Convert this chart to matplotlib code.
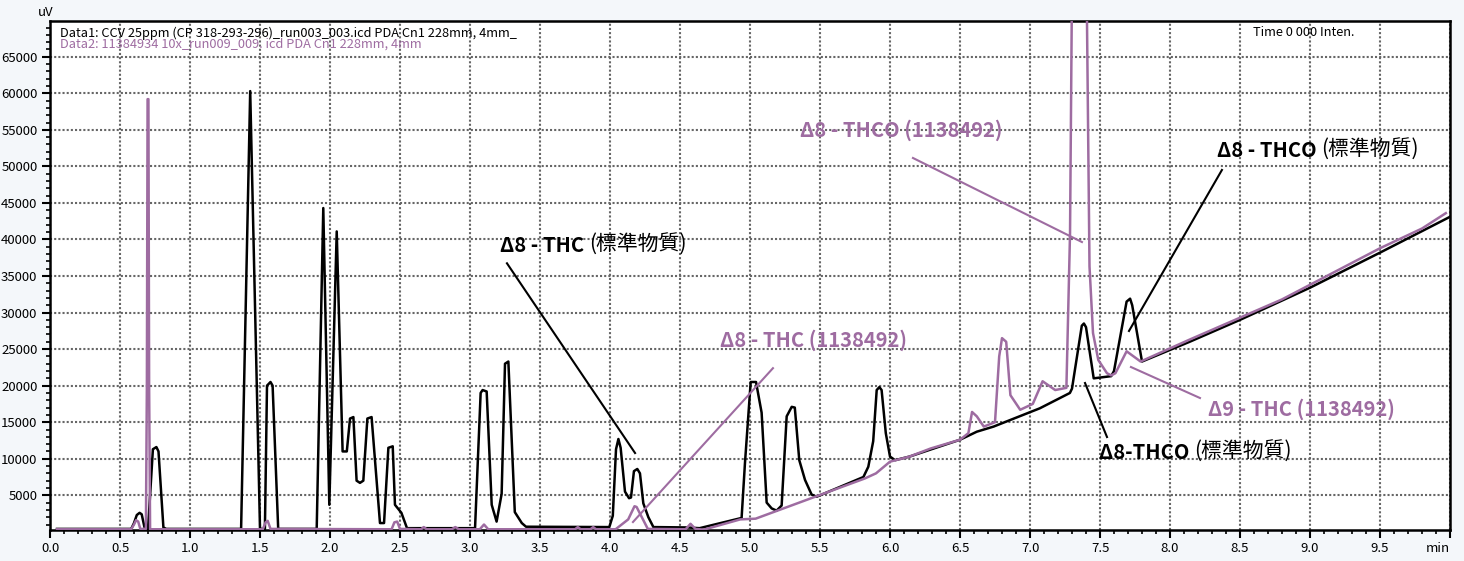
import numpy as np
import matplotlib.pyplot as plt
from matplotlib.ticker import MultipleLocator

plt.rcParams['font.family'] = ['Noto Sans CJK TC', 'DejaVu Sans']

# Data1 (black) - CCV 25ppm standard, retention time (min) / intensity (uV)
t1 = [0.05, 0.58, 0.60, 0.62, 0.64, 0.655, 0.675, 0.70, 0.715, 0.735, 0.76, 0.775, 0.81, 0.83,
      1.365, 1.43, 1.50, 1.535, 1.55, 1.575, 1.59, 1.63, 1.905,
      1.952, 1.995, 2.048, 2.09, 2.12, 2.143, 2.167, 2.19, 2.214, 2.238, 2.267, 2.297,
      2.357, 2.386, 2.417, 2.448, 2.464, 2.51, 2.55, 3.036,
      3.076, 3.09, 3.119, 3.155, 3.19, 3.226, 3.25, 3.274, 3.32, 3.37, 3.40, 3.995,
      4.02, 4.043, 4.06, 4.076, 4.107, 4.136, 4.15, 4.171, 4.195, 4.214, 4.238, 4.274, 4.31,
      4.55, 4.64, 4.94, 4.964, 5.005, 5.043, 5.083, 5.119, 5.155, 5.19, 5.226, 5.262, 5.298,
      5.32, 5.352, 5.393, 5.44, 5.476, 5.81, 5.845, 5.88, 5.905, 5.924, 5.94, 5.97, 6.0,
      6.036, 6.14, 6.5, 6.62, 6.74, 7.07, 7.285, 7.30, 7.37, 7.385, 7.40, 7.455, 7.58,
      7.60, 7.69, 7.715, 7.73, 7.80, 8.14, 8.5, 9.0, 9.5, 10.0]
uv1 = [400, 400, 1200, 2300, 2600, 2400, 600, 400, 5000, 11300, 11600, 11000, 600, 400,
       400, 60300, 400, 400, 20000, 20500, 20000, 400, 400,
       44300, 3700, 41100, 11000, 11000, 15500, 15700, 7000, 6700, 7000, 15500, 15700,
       1200, 1200, 11500, 11700, 3700, 2600, 500, 500,
       19000, 19400, 19200, 3700, 1400, 5200, 23000, 23300, 2700, 1200, 700, 650,
       2200, 11300, 12700, 11500, 5500, 4600, 4700, 8300, 8600, 8000, 3900, 2000, 650,
       600, 500, 1900, 9400, 20500, 20500, 16300, 4000, 3200, 2900, 3600, 15800, 17100,
       17000, 9800, 7100, 5100, 4800, 7500, 8900, 12400, 19400, 19800, 19400, 13500, 10300,
       9800, 10300, 12600, 13700, 14400, 16900, 19000, 19600, 28200, 28500, 28000, 21000, 21300,
       22000, 31500, 31900, 31000, 23300, 26000, 29000, 33400, 38200, 43100]

# Data2 (purple) - sample 11384934 10x
t2 = [0.05, 0.58, 0.60, 0.615, 0.63, 0.645, 0.685, 0.692, 0.697, 0.703, 0.708, 0.715,
      1.52, 1.54, 1.555, 1.575, 2.44, 2.46, 2.48, 2.50, 2.65, 2.67, 2.69, 2.87, 2.895, 2.92,
      3.07, 3.10, 3.13, 3.75, 3.77, 3.79, 3.86, 3.88, 3.90, 4.04, 4.13, 4.175, 4.19, 4.27,
      4.54, 4.575, 4.61, 4.67, 4.93, 5.04, 5.82, 5.9, 6.0, 6.14, 6.29, 6.5, 6.56, 6.586,
      6.62, 6.67, 6.75, 6.78, 6.80, 6.83, 6.86, 6.93, 7.02, 7.09, 7.18, 7.26,
      7.286, 7.298, 7.32, 7.38, 7.407, 7.425, 7.45, 7.488, 7.55, 7.58, 7.61, 7.69, 7.79,
      8.14, 8.5, 8.8, 9.0, 9.3, 9.5, 9.8, 9.97]
uv2 = [350, 350, 1000, 1600, 1400, 400, 400, 20000, 59200, 59200, 20000, 350,
       350, 1300, 1500, 400, 350, 1300, 1400, 400, 350, 650, 350, 350, 650, 350,
       350, 1000, 350, 350, 650, 350, 350, 650, 350, 350, 1700, 3500, 3400, 400,
       350, 1100, 400, 300, 1700, 1800, 7300, 8000, 9600, 10300, 11400, 12600, 13500, 16400,
       15800, 14400, 15000, 24000, 26500, 26000, 18700, 16700, 17500, 20600, 19400, 19700,
       40900, 70000, 95000, 95000, 70000, 36300, 27200, 23500, 21700, 21400, 21700, 24700, 23300,
       26300, 29300, 31800, 33800, 36800, 38800, 41500, 43600]

x_ticks = np.arange(0, 10.01, 0.5)
x_labels = ['%.1f' % v for v in x_ticks[:-1]] + ['min']
y_ticks = np.arange(5000, 65001, 5000)

purple = '#9e6ca1'

# (label parts, colour, text anchor, leader line start, leader line end)
notes = [
    (('\u03948 - THC ', '(標準物質)'), 'black', (3.214, 39240), (3.264, 36740), (4.179, 10780)),
    (('\u03948 - THC (1138492)', ''), purple, (4.786, 26270), (5.164, 22390), (4.164, 1340)),
    (('\u03948 - THCO (1138492)', ''), purple, (5.357, 54970), (6.164, 51150), (7.371, 39650)),
    (('\u03948 - THCO ', '(標準物質)'), 'black', (8.336, 52240), (8.371, 49510), (7.707, 27480)),
    (('\u03949 - THC (1138492)', ''), purple, (8.271, 16800), (7.721, 22550), (8.214, 18310)),
    (('\u03948-THCO ', '(標準物質)'), 'black', (7.493, 10920), (7.393, 20360), (7.55, 12970)),
]

fig = plt.figure(figsize=(14.64, 5.61), dpi=100, facecolor='#f4f7fa')
ax = fig.add_axes([50 / 1464, 31 / 561, 1400 / 1464, 509.5 / 561])
ax.set_facecolor('white')

ax.plot(t1, uv1, color='black', lw=1.8, solid_joinstyle='round', zorder=3)
ax.plot(t2, uv2, color=purple, lw=1.8, solid_joinstyle='round', zorder=4)

ax.set_xlim(0, 10)
ax.set_ylim(250, 69960)
ax.set_xticks(x_ticks)
ax.set_xticklabels(x_labels)
ax.get_xticklabels()[-1].set_ha('right')
ax.set_yticks(y_ticks)
ax.xaxis.set_minor_locator(MultipleLocator(0.1))
ax.yaxis.set_minor_locator(MultipleLocator(1000))
ax.tick_params(which='major', length=6, width=1.5, labelsize=9.5, color='black', pad=3)
ax.tick_params(which='minor', length=3, width=1.2, color='black')
ax.grid(True, which='major', color='#666666', linestyle=(0, (1, 1)), lw=1.5)
ax.set_axisbelow(True)
for s in ax.spines.values():
    s.set_linewidth(1.8)

ax.text(0.007, 0.9755, 'Data1: CCV 25ppm (CP 318-293-296)_run003_003.icd PDA Cn1 228mm, 4mm_',
        transform=ax.transAxes, fontsize=9.2, va='center', ha='left', color='black', zorder=6)
ax.text(0.007, 0.9539, 'Data2: 11384934 10x_run009_009. icd PDA Cn1 228mm, 4mm',
        transform=ax.transAxes, fontsize=9.2, va='center', ha='left', color=purple, zorder=6)
ax.text(0.859, 0.9755, 'Time 0 000 Inten.', transform=ax.transAxes, fontsize=9.2,
        va='center', ha='left', color='black', zorder=6)
fig.text(38 / 1464, 1 - 12 / 561, 'uV', fontsize=9.5, va='center', ha='left')

for (bold_part, plain_part), c, pos, p0, p1 in notes:
    ax.plot([p0[0], p1[0]], [p0[1], p1[1]], color=c, lw=1.5, zorder=5)
    t = ax.text(pos[0], pos[1], bold_part, color=c, fontsize=14.5, fontweight='bold',
                va='center', ha='left', zorder=6)
    if plain_part:
        ax.annotate(plain_part, xy=(1, 0.5), xycoords=t, color=c, fontsize=15,
                    fontweight='medium', va='center', ha='left', zorder=6)

fig.savefig('out.png', dpi=100, facecolor=fig.get_facecolor())
